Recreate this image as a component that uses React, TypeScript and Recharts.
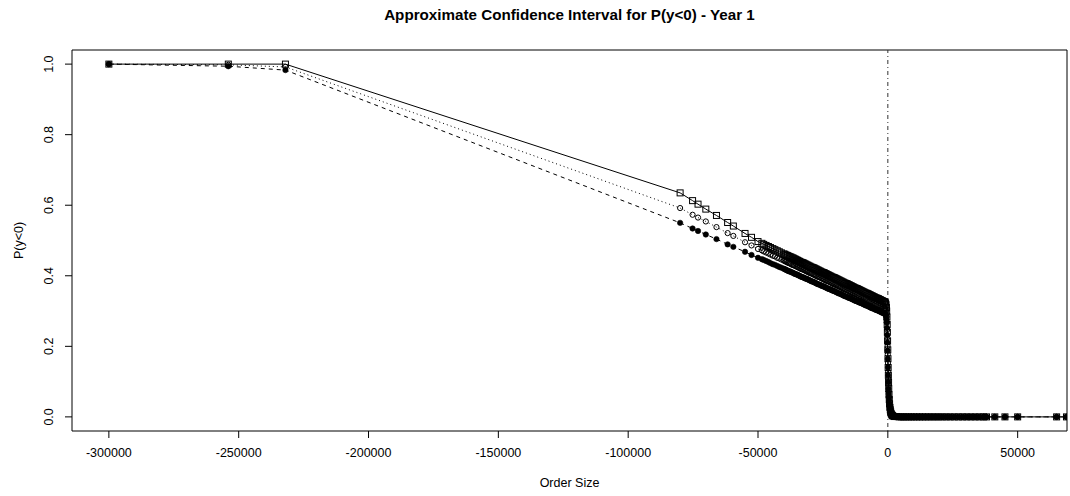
import React from 'react';
import { ComposedChart, Line, XAxis, YAxis, ReferenceLine, ReferenceArea, Label } from 'recharts';

const FONT = '"Liberation Sans", Arial, Helvetica, sans-serif';

// Order sizes (x values) of the connected series
const orderSize = [
  -300000, -254000, -232000,
  -80000, -75200, -73100, -70100, -66000, -61700, -59500, -55000, -52500, -50000,
  -48500, -47800, -46900, -46000, -45200, -44300, -43500, -42600, -41800, -41000,
  -40100, -39300, -38500, -37700, -36800, -36000, -35200, -34400, -33600, -32800,
  -32000, -31200, -30400, -29600, -28800, -28000, -27200, -26400, -25600, -24800,
  -24000, -23200, -22400, -21600, -20800, -20000, -19200, -18400, -17600, -16800,
  -16000, -15200, -14400, -13600, -12800, -12000, -11200, -10400, -9600, -8800,
  -8000, -7200, -6400, -5600, -4800, -4000, -3200, -2400, -1600, -1000,
  -700, -450, -250, -100, 50, 200, 350, 550, 800, 1100, 1500, 2000,
  2600, 3400, 4300, 5200, 6100, 7000, 8000, 9000, 10000, 11100, 12200, 13300,
  14500, 15700, 17000, 18300, 19600, 21000, 22500, 24000, 25600, 27200, 28800,
  30400, 32000, 33600, 35200, 36800, 38000, 41200, 45100, 50000, 65000, 68800,
];

// Upper bound of P(y<0)
const upperP = [
  1.0, 1.0, 1.0,
  0.635, 0.613, 0.603, 0.589, 0.571, 0.551, 0.541, 0.520, 0.509, 0.497,
  0.492, 0.489, 0.486, 0.483, 0.480, 0.477, 0.474, 0.471, 0.468, 0.465,
  0.462, 0.459, 0.457, 0.454, 0.451, 0.448, 0.445, 0.442, 0.439, 0.437,
  0.434, 0.431, 0.428, 0.425, 0.423, 0.420, 0.417, 0.414, 0.411, 0.409,
  0.406, 0.403, 0.400, 0.397, 0.395, 0.392, 0.389, 0.386, 0.383, 0.380,
  0.378, 0.375, 0.372, 0.369, 0.366, 0.364, 0.361, 0.358, 0.355, 0.352,
  0.350, 0.347, 0.344, 0.341, 0.338, 0.336, 0.333, 0.330, 0.327, 0.325,
  0.318, 0.300, 0.262, 0.215, 0.165, 0.118, 0.080, 0.049, 0.027, 0.014, 0.006, 0.002,
  0.001, 0.001, 0, 0, 0, 0, 0, 0, 0, 0, 0, 0,
  0, 0, 0, 0, 0, 0, 0, 0, 0, 0, 0,
  0, 0, 0, 0, 0, 0, 0, 0, 0, 0, 0,
];

// Point estimate of P(y<0)
const estimateP = [
  1.0, 0.998, 0.992,
  0.592, 0.573, 0.565, 0.554, 0.538, 0.521, 0.513, 0.495, 0.486, 0.476,
  0.472, 0.469, 0.466, 0.463, 0.460, 0.457, 0.455, 0.451, 0.449, 0.446,
  0.443, 0.440, 0.437, 0.435, 0.431, 0.429, 0.426, 0.423, 0.420, 0.418,
  0.415, 0.412, 0.409, 0.407, 0.404, 0.401, 0.398, 0.396, 0.393, 0.390,
  0.387, 0.385, 0.382, 0.379, 0.376, 0.374, 0.371, 0.368, 0.365, 0.362,
  0.360, 0.357, 0.354, 0.351, 0.349, 0.346, 0.343, 0.340, 0.338, 0.335,
  0.332, 0.329, 0.327, 0.324, 0.321, 0.318, 0.316, 0.313, 0.310, 0.308,
  0.301, 0.284, 0.247, 0.201, 0.153, 0.108, 0.072, 0.044, 0.024, 0.012, 0.005, 0.002,
  0.001, 0, 0, 0, 0, 0, 0, 0, 0, 0, 0, 0,
  0, 0, 0, 0, 0, 0, 0, 0, 0, 0, 0,
  0, 0, 0, 0, 0, 0, 0, 0, 0, 0, 0,
];

// Lower bound of P(y<0)
const lowerP = [
  1.0, 0.994, 0.983,
  0.550, 0.534, 0.527, 0.517, 0.504, 0.489, 0.482, 0.468, 0.459, 0.451,
  0.447, 0.445, 0.442, 0.439, 0.436, 0.433, 0.431, 0.428, 0.425, 0.423,
  0.420, 0.417, 0.414, 0.412, 0.409, 0.406, 0.404, 0.401, 0.398, 0.396,
  0.393, 0.391, 0.388, 0.385, 0.383, 0.380, 0.377, 0.375, 0.372, 0.370,
  0.367, 0.364, 0.362, 0.359, 0.357, 0.354, 0.351, 0.349, 0.346, 0.343,
  0.341, 0.338, 0.336, 0.333, 0.330, 0.328, 0.325, 0.323, 0.320, 0.317,
  0.315, 0.312, 0.309, 0.307, 0.304, 0.302, 0.299, 0.296, 0.294, 0.292,
  0.285, 0.268, 0.232, 0.188, 0.141, 0.098, 0.065, 0.039, 0.021, 0.010, 0.004, 0.001,
  0, 0, 0, 0, 0, 0, 0, 0, 0, 0, 0, 0,
  0, 0, 0, 0, 0, 0, 0, 0, 0, 0, 0,
  0, 0, 0, 0, 0, 0, 0, 0, 0, 0, 0,
];

// Additional observed order sizes inside the dense band (markers only)
const bandOrderSize = [
  -39700, -38900, -38100, -37300, -36400, -35600, -34800, -34000, -33200, -32400,
  -31600, -30800, -30000, -29200, -28400, -27600, -26800, -26000, -25200, -24400,
  -23600, -22800, -22000, -21200, -20400, -19600, -18800, -18000, -17200, -16400,
  -15600, -14800, -14000, -13200, -12400, -11600, -10800, -10000, -9200, -8400,
  -7600, -6800, -6000, -5200, -4400, -3600, -2800, -2000, -1300,
  -850, -550, -350, -180, -20, 120, 280, 450, 670, 950, 1300, 1750,
];
const bandUpperP = [
  0.461, 0.458, 0.455, 0.453, 0.450, 0.447, 0.444, 0.441, 0.438, 0.436,
  0.433, 0.430, 0.427, 0.424, 0.422, 0.419, 0.416, 0.413, 0.410, 0.408,
  0.405, 0.402, 0.399, 0.396, 0.394, 0.391, 0.388, 0.385, 0.382, 0.379,
  0.377, 0.374, 0.371, 0.368, 0.365, 0.363, 0.360, 0.357, 0.354, 0.351,
  0.349, 0.346, 0.343, 0.340, 0.337, 0.335, 0.332, 0.329, 0.326,
  0.322, 0.310, 0.283, 0.240, 0.190, 0.140, 0.098, 0.063, 0.037, 0.020, 0.009, 0.004,
];
const bandEstimateP = [
  0.442, 0.439, 0.436, 0.433, 0.430, 0.428, 0.425, 0.422, 0.419, 0.417,
  0.414, 0.411, 0.408, 0.406, 0.403, 0.400, 0.397, 0.395, 0.392, 0.389,
  0.386, 0.384, 0.381, 0.378, 0.375, 0.373, 0.370, 0.367, 0.364, 0.361,
  0.359, 0.356, 0.353, 0.350, 0.348, 0.345, 0.342, 0.339, 0.337, 0.334,
  0.331, 0.328, 0.326, 0.323, 0.320, 0.317, 0.315, 0.312, 0.309,
  0.305, 0.293, 0.267, 0.225, 0.177, 0.129, 0.089, 0.057, 0.033, 0.017, 0.008, 0.003,
];
const bandLowerP = [
  0.419, 0.416, 0.413, 0.411, 0.408, 0.405, 0.403, 0.400, 0.397, 0.395,
  0.392, 0.390, 0.387, 0.384, 0.382, 0.379, 0.376, 0.374, 0.371, 0.369,
  0.366, 0.363, 0.361, 0.358, 0.356, 0.353, 0.350, 0.348, 0.345, 0.342,
  0.340, 0.337, 0.335, 0.332, 0.329, 0.327, 0.324, 0.322, 0.319, 0.316,
  0.314, 0.311, 0.308, 0.306, 0.303, 0.301, 0.298, 0.295, 0.293,
  0.289, 0.277, 0.252, 0.211, 0.164, 0.118, 0.080, 0.051, 0.029, 0.015, 0.006, 0.002,
];

const xTicks = [-300000, -250000, -200000, -150000, -100000, -50000, 0, 50000];
const yTicks = [0, 0.2, 0.4, 0.6, 0.8, 1.0];
const xDomain: [number, number] = [-314200, 69000];
const yDomain: [number, number] = [-0.04, 1.04];

const titleText = 'Approximate Confidence Interval for P(y<0) - Year 1';
const xLabelText = 'Order Size';
const yLabelText = 'P(y<0)';

const data = orderSize.map((x, i) => ({
  x,
  upper: upperP[i],
  mid: estimateP[i],
  lower: lowerP[i],
}));

const bandData = bandOrderSize.map((x, i) => ({
  x,
  upper: bandUpperP[i],
  mid: bandEstimateP[i],
  lower: bandLowerP[i],
}));

const SquareDot = (p: any) => {
  if (p.cx == null || p.cy == null) return <g key={p.key} />;
  return (
    <rect key={p.key} x={p.cx - 3} y={p.cy - 3} width={6} height={6}
      fill="none" stroke="#000" strokeWidth={1} />
  );
};
const OpenCircleDot = (p: any) => {
  if (p.cx == null || p.cy == null) return <g key={p.key} />;
  return <circle key={p.key} cx={p.cx} cy={p.cy} r={2.6} fill="none" stroke="#000" strokeWidth={1} />;
};
const FilledCircleDot = (p: any) => {
  if (p.cx == null || p.cy == null) return <g key={p.key} />;
  return <circle key={p.key} cx={p.cx} cy={p.cy} r={2.7} fill="#000" stroke="#000" strokeWidth={0.6} />;
};

const YTick = (props: any) => {
  const { x, y, payload } = props;
  return (
    <text x={x} y={y} transform={`rotate(-90, ${x}, ${y})`} textAnchor="middle"
      dominantBaseline="central" fontSize={12.5} fill="#000" fontFamily={FONT}>
      {Number(payload.value).toFixed(1)}
    </text>
  );
};

const XTick = (props: any) => {
  const { x, y, payload } = props;
  return (
    <text x={x} y={y} textAnchor="middle" dominantBaseline="central"
      fontSize={12.5} fill="#000" fontFamily={FONT}>
      {String(payload.value)}
    </text>
  );
};

export default function App() {
  return (
    <div style={{ position: 'absolute', left: 0, top: 0, width: 1070, height: 496, background: '#fff' }}>
      <div style={{
        position: 'absolute', left: 72, top: 6, width: 995, textAlign: 'center',
        fontFamily: FONT, fontWeight: 'bold', fontSize: 15.2, lineHeight: '18px', color: '#000',
      }}>
        {titleText}
      </div>
      <ComposedChart width={1070} height={496} data={data}
        margin={{ top: 50, right: 3, bottom: 0, left: 0 }}>
        <XAxis type="number" dataKey="x" domain={xDomain} ticks={xTicks} allowDataOverflow
          height={65} axisLine={false} tickLine={{ stroke: '#000' }} tickSize={7} tickMargin={15}
          tick={<XTick />} interval={0}>
          <Label content={(p: any) => {
            const vb = p.viewBox;
            return (
              <text x={vb.x + vb.width / 2} y={vb.y + 52} textAnchor="middle" dominantBaseline="central"
                fontSize={12.5} fill="#000" fontFamily={FONT}>{xLabelText}</text>
            );
          }} />
        </XAxis>
        <YAxis type="number" domain={yDomain} ticks={yTicks} allowDataOverflow width={72}
          axisLine={false} tickLine={{ stroke: '#000' }} tickSize={7} tickMargin={16}
          tick={<YTick />} interval={0}>
          <Label content={(p: any) => {
            const vb = p.viewBox;
            const cx = vb.x + 19;
            const cy = vb.y + vb.height / 2;
            return (
              <text x={cx} y={cy} transform={`rotate(-90, ${cx}, ${cy})`} textAnchor="middle"
                dominantBaseline="central" fontSize={12.5} fill="#000" fontFamily={FONT}>{yLabelText}</text>
            );
          }} />
        </YAxis>
        <ReferenceArea x1={xDomain[0]} x2={xDomain[1]} y1={yDomain[0]} y2={yDomain[1]}
          fill="none" fillOpacity={0} stroke="#000" strokeWidth={1} ifOverflow="visible" />
        <ReferenceLine x={0} stroke="#333" strokeWidth={1} strokeDasharray="1 3 4 3" />
        <Line type="linear" dataKey="upper" stroke="#000" strokeWidth={1}
          dot={SquareDot} activeDot={false} isAnimationActive={false} />
        <Line type="linear" dataKey="mid" stroke="#000" strokeWidth={1} strokeDasharray="1 3"
          dot={OpenCircleDot} activeDot={false} isAnimationActive={false} />
        <Line type="linear" dataKey="lower" stroke="#000" strokeWidth={1} strokeDasharray="4 4"
          dot={FilledCircleDot} activeDot={false} isAnimationActive={false} />
        <Line data={bandData} type="linear" dataKey="upper" stroke="none"
          dot={SquareDot} activeDot={false} isAnimationActive={false} />
        <Line data={bandData} type="linear" dataKey="mid" stroke="none"
          dot={OpenCircleDot} activeDot={false} isAnimationActive={false} />
        <Line data={bandData} type="linear" dataKey="lower" stroke="none"
          dot={FilledCircleDot} activeDot={false} isAnimationActive={false} />
      </ComposedChart>
    </div>
  );
}
